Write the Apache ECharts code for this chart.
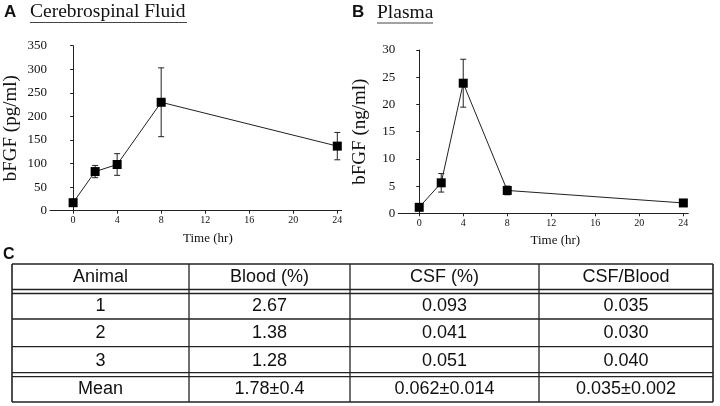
<!DOCTYPE html>
<html>
<head>
<meta charset="utf-8">
<script src="https://cdn.jsdelivr.net/npm/echarts@6/dist/echarts.min.js"></script>
<style>html,body{margin:0;padding:0;background:#fff}#c{width:720px;height:406px}</style>
</head>
<body>
<div id="c"></div>
<script>
// ---- data ----
const timesHr = [0, 2, 4, 8, 24];
const csfMean = [17, 83, 98, 230, 137];
const csfErr = [0, 13, 23, 73, 29];
const plasmaMean = [1.1, 5.6, 23.9, 4.2, 1.9];
const plasmaErr = [0.2, 1.7, 4.4, 0.8, 0.5];
const xTickValues = [0, 4, 8, 12, 16, 20, 24];

const tableHeader = ['Animal', 'Blood (%)', 'CSF (%)', 'CSF/Blood'];
const animalIds = ['1', '2', '3'];
const bloodPct = ['2.67', '1.38', '1.28'];
const csfPct = ['0.093', '0.041', '0.051'];
const csfBloodRatio = ['0.035', '0.030', '0.040'];
const meanRow = ['Mean', '1.78±0.4', '0.062±0.014', '0.035±0.002'];

// ---- helpers ----
const SERIF = 'Liberation Serif';
const SANS = 'Liberation Sans';
function pts(xs, ys) { return xs.map((x, i) => [x, ys[i]]); }
function errData(xs, ys, es) { return xs.map((x, i) => [x, ys[i] - es[i], ys[i] + es[i]]); }
function errRender(params, api) {
  const x = api.value(0);
  const lo = api.coord([x, api.value(1)]);
  const hi = api.coord([x, api.value(2)]);
  const w = 3;
  const st = { stroke: '#222', lineWidth: 1 };
  return { type: 'group', children: [
    { type: 'line', shape: { x1: lo[0], y1: lo[1], x2: hi[0], y2: hi[1] }, style: st },
    { type: 'line', shape: { x1: hi[0] - w, y1: hi[1], x2: hi[0] + w, y2: hi[1] }, style: st },
    { type: 'line', shape: { x1: lo[0] - w, y1: lo[1], x2: lo[0] + w, y2: lo[1] }, style: st }
  ]};
}
function xAxisCfg(idx, min, max) {
  return {
    type: 'value', gridIndex: idx, min: min, max: max,
    splitLine: { show: false },
    axisLine: { onZero: false, lineStyle: { color: '#222', width: 1 } },
    axisTick: { customValues: xTickValues, length: 3, lineStyle: { color: '#222' } },
    axisLabel: { customValues: xTickValues, fontFamily: SERIF, fontSize: 10, color: '#111', margin: 5 },
    name: 'Time (hr)', nameLocation: 'middle', nameGap: 21,
    nameTextStyle: { fontFamily: SERIF, fontSize: 13, color: '#111', padding: [0, 0, 0, 24] }
  };
}
function yAxisCfg(idx, max, interval, name) {
  return {
    type: 'value', gridIndex: idx, min: 0, max: max, interval: interval,
    splitLine: { show: false },
    axisLine: { show: true, lineStyle: { color: '#222', width: 1 } },
    axisTick: { show: true, length: 3, lineStyle: { color: '#222' } },
    axisLabel: { fontFamily: SERIF, fontSize: 13, color: '#111', margin: 3 },
    name: name, nameLocation: 'middle', nameRotate: 90, nameGap: 29,
    nameTextStyle: { fontFamily: SERIF, fontSize: 19, color: '#111' }
  };
}

// ---- table graphics ----
const colX = [12, 189, 350, 539, 713];
const rowY = [264, 291.5, 319, 346.7, 374.7, 402];
const tableRows = [tableHeader];
animalIds.forEach((a, i) => tableRows.push([a, bloodPct[i], csfPct[i], csfBloodRatio[i]]));
tableRows.push(meanRow);

const graphics = [];
function hline(y, w) { graphics.push({ type: 'line', shape: { x1: colX[0], y1: y, x2: colX[4], y2: y }, style: { stroke: '#222', lineWidth: w || 1.3 } }); }
hline(rowY[0], 1.6);
hline(rowY[1] - 2); hline(rowY[1] + 2);
hline(rowY[2]); hline(rowY[3]);
hline(rowY[4] - 2); hline(rowY[4] + 2);
hline(rowY[5], 1.6);
colX.forEach((x, i) => graphics.push({ type: 'line', shape: { x1: x, y1: rowY[0], x2: x, y2: rowY[5] }, style: { stroke: '#222', lineWidth: (i === 0 || i === 4) ? 1.6 : 1.3 } }));
tableRows.forEach((row, r) => {
  const yc = (rowY[r] + rowY[r + 1]) / 2 + ((r === 0) ? -1 : (r === 1 ? 1 : (r === 4 ? 1 : 0)));
  row.forEach((t, c) => {
    graphics.push({ type: 'text', style: { x: (colX[c] + colX[c + 1]) / 2, y: yc, text: t, font: '18px "' + SANS + '"', fill: '#111', align: 'center', verticalAlign: 'middle' } });
  });
});
// panel labels and titles
graphics.push({ type: 'text', style: { x: 4, y: 12, text: 'A', font: 'bold 17px "' + SANS + '"', fill: '#111', verticalAlign: 'middle' } });
graphics.push({ type: 'text', style: { x: 30, y: 12, text: 'Cerebrospinal Fluid', font: '19.5px "' + SERIF + '"', fill: '#111', verticalAlign: 'middle' } });
graphics.push({ type: 'line', shape: { x1: 30, y1: 22.5, x2: 187, y2: 22.5 }, style: { stroke: '#444', lineWidth: 1 } });
graphics.push({ type: 'text', style: { x: 352, y: 12, text: 'B', font: 'bold 17px "' + SANS + '"', fill: '#111', verticalAlign: 'middle' } });
graphics.push({ type: 'text', style: { x: 377, y: 13, text: 'Plasma', font: '19.5px "' + SERIF + '"', fill: '#111', verticalAlign: 'middle' } });
graphics.push({ type: 'line', shape: { x1: 377, y1: 23, x2: 433, y2: 23 }, style: { stroke: '#444', lineWidth: 1 } });
graphics.push({ type: 'text', style: { x: 3, y: 255, text: 'C', font: 'bold 16px "' + SANS + '"', fill: '#111', verticalAlign: 'middle' } });

const chart = echarts.init(document.getElementById('c'), null, { renderer: 'canvas' });
chart.setOption({
  animation: false,
  backgroundColor: '#fff',
  grid: [
    { left: 50, right: 378.3, top: 45.7, bottom: 195.3 },
    { left: 398.3, right: 31.7, top: 50, bottom: 192.7 }
  ],
  xAxis: [xAxisCfg(0, -2.1, 24.4), xAxisCfg(1, -1.9, 24.45)],
  yAxis: [yAxisCfg(0, 350, 50, 'bFGF (pg/ml)'), yAxisCfg(1, 30, 5, 'bFGF (ng/ml)')],
  series: [
    { type: 'custom', xAxisIndex: 0, yAxisIndex: 0, renderItem: errRender, data: errData(timesHr, csfMean, csfErr), encode: { x: 0, y: [1, 2] }, z: 1 },
    { type: 'line', xAxisIndex: 0, yAxisIndex: 0, data: pts(timesHr, csfMean), symbol: 'rect', symbolSize: 9, itemStyle: { color: '#000' }, lineStyle: { color: '#222', width: 1 }, z: 3 },
    { type: 'custom', xAxisIndex: 1, yAxisIndex: 1, renderItem: errRender, data: errData(timesHr, plasmaMean, plasmaErr), encode: { x: 0, y: [1, 2] }, z: 1 },
    { type: 'line', xAxisIndex: 1, yAxisIndex: 1, data: pts(timesHr, plasmaMean), symbol: 'rect', symbolSize: 9, itemStyle: { color: '#000' }, lineStyle: { color: '#222', width: 1 }, z: 3 }
  ],
  graphic: graphics
});
</script>
</body>
</html>
